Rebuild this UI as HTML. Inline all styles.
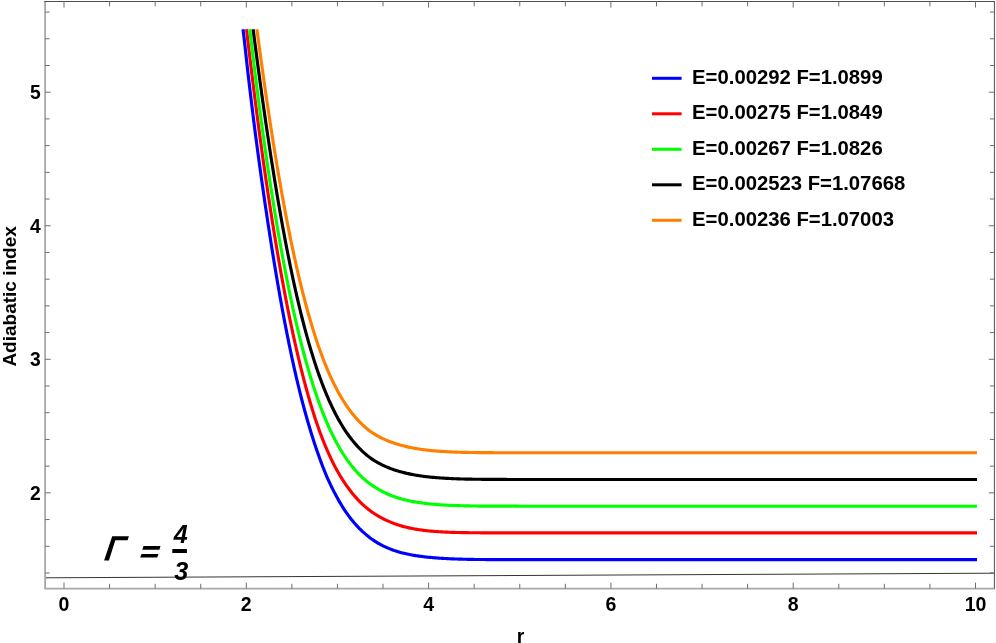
<!DOCTYPE html>
<html><head><meta charset="utf-8"><title>Adiabatic index</title>
<style>
html,body{margin:0;padding:0;background:#fff;}
body{width:996px;height:643px;overflow:hidden;}
svg{display:block;will-change:transform;}
text{font-family:"Liberation Sans",sans-serif;font-weight:bold;fill:#000;}
</style></head><body>
<svg width="996" height="643" viewBox="0 0 996 643">
<rect x="0" y="0" width="996" height="643" fill="#ffffff"/>
<line x1="45.1" y1="577.8" x2="994.4" y2="573.2" stroke="#000" stroke-width="0.8"/>
<path d="M243.02,29.30 L244.15,38.79 L245.23,48.21 L246.24,57.57 L247.26,66.85 L248.32,76.06 L249.40,85.20 L250.48,94.26 L251.56,103.24 L252.65,112.14 L253.75,120.95 L254.86,129.68 L255.98,138.33 L257.12,146.88 L258.26,155.35 L259.41,163.72 L260.55,172.01 L261.70,180.20 L262.85,188.29 L264.00,196.29 L265.15,204.19 L266.31,211.99 L267.46,219.69 L268.62,227.29 L269.77,234.79 L270.93,242.19 L272.09,249.49 L273.24,256.68 L274.40,263.77 L275.57,270.76 L276.73,277.64 L277.89,284.41 L279.05,291.09 L280.22,297.65 L281.38,304.11 L282.55,310.47 L283.72,316.72 L284.88,322.87 L286.05,328.91 L287.22,334.84 L288.39,340.67 L289.56,346.40 L290.73,352.02 L291.90,357.54 L293.07,362.95 L294.24,368.26 L295.42,373.47 L296.61,378.58 L297.80,383.59 L298.99,388.50 L300.18,393.30 L301.37,397.99 L302.57,402.58 L303.76,407.07 L304.95,411.47 L306.14,415.76 L307.33,419.96 L308.51,424.06 L309.70,428.06 L310.88,431.97 L312.07,435.79 L313.25,439.52 L314.44,443.15 L315.62,446.70 L316.80,450.16 L317.96,453.53 L319.12,456.82 L320.28,460.03 L321.44,463.15 L322.60,466.19 L323.76,469.15 L324.92,472.03 L326.08,474.82 L327.24,477.53 L328.40,480.15 L329.56,482.69 L330.72,485.15 L331.88,487.55 L333.04,489.87 L334.20,492.13 L335.36,494.33 L336.52,496.47 L337.68,498.57 L338.84,500.61 L340.00,502.61 L341.16,504.56 L342.32,506.45 L343.48,508.29 L344.64,510.07 L345.80,511.79 L346.96,513.47 L348.12,515.09 L349.27,516.66 L350.43,518.18 L351.59,519.66 L352.75,521.09 L353.91,522.48 L355.07,523.82 L356.23,525.12 L357.39,526.38 L358.55,527.60 L359.71,528.78 L360.87,529.92 L362.03,531.03 L363.19,532.10 L364.35,533.15 L365.51,534.16 L366.67,535.13 L367.83,536.08 L368.99,537.00 L370.15,537.88 L371.31,538.74 L372.47,539.56 L373.63,540.36 L374.79,541.13 L375.95,541.87 L377.11,542.59 L378.27,543.28 L379.43,543.94 L380.59,544.57 L381.75,545.19 L382.91,545.78 L384.07,546.35 L385.23,546.89 L386.39,547.42 L387.54,547.93 L388.70,548.42 L389.86,548.89 L391.02,549.35 L392.18,549.78 L393.34,550.20 L394.50,550.61 L395.66,550.99 L396.82,551.36 L397.98,551.72 L399.14,552.06 L400.30,552.39 L401.46,552.70 L402.62,553.00 L403.78,553.28 L404.94,553.56 L406.10,553.82 L407.26,554.08 L408.42,554.32 L409.58,554.55 L410.74,554.77 L411.90,554.99 L413.06,555.19 L414.22,555.39 L415.38,555.57 L416.54,555.75 L417.70,555.93 L418.86,556.09 L420.02,556.25 L421.18,556.41 L422.34,556.55 L423.50,556.70 L424.66,556.83 L425.81,556.96 L426.97,557.09 L428.13,557.21 L429.29,557.33 L430.45,557.44 L431.61,557.55 L432.77,557.66 L433.93,557.76 L435.09,557.85 L436.25,557.94 L437.41,558.03 L438.57,558.12 L439.73,558.20 L440.89,558.27 L442.05,558.35 L443.21,558.42 L444.37,558.49 L445.53,558.55 L446.69,558.61 L447.85,558.67 L449.01,558.72 L450.17,558.77 L451.33,558.82 L452.49,558.87 L453.65,558.91 L454.81,558.95 L455.97,558.99 L457.13,559.03 L458.29,559.07 L459.45,559.11 L460.61,559.14 L461.77,559.17 L462.92,559.20 L464.08,559.23 L465.24,559.26 L466.40,559.29 L467.56,559.32 L468.72,559.34 L469.88,559.36 L471.04,559.39 L472.20,559.41 L473.36,559.43 L474.52,559.45 L475.68,559.46 L476.84,559.48 L478.00,559.50 L479.16,559.51 L480.32,559.52 L481.48,559.53 L482.64,559.53 L483.80,559.54 L484.96,559.55 L486.12,559.55 L487.28,559.56 L488.44,559.56 L489.60,559.57 L490.76,559.57 L491.92,559.57 L493.08,559.58 L494.24,559.58 L495.40,559.58 L496.56,559.59 L497.72,559.59 L498.88,559.59 L500.04,559.59 L501.19,559.60 L502.35,559.60 L503.51,559.60 L504.67,559.60 L505.83,559.60 L506.99,559.61 L508.15,559.61 L509.31,559.61 L510.47,559.61 L511.63,559.61 L512.79,559.61 L513.95,559.61 L515.11,559.61 L516.27,559.61 L517.43,559.61 L518.59,559.62 L519.75,559.62 L543.82,559.62 L567.89,559.62 L591.96,559.62 L616.02,559.62 L640.09,559.62 L664.16,559.62 L688.23,559.62 L712.30,559.62 L736.37,559.62 L760.43,559.62 L784.50,559.63 L808.57,559.63 L832.64,559.63 L856.71,559.63 L880.78,559.63 L904.84,559.63 L928.91,559.63 L952.98,559.63 L977.05,559.63" fill="none" stroke="#0000ff" stroke-width="3.15" stroke-linejoin="round" stroke-linecap="butt"/>
<path d="M246.50,29.30 L247.67,39.31 L248.84,49.18 L250.01,58.93 L251.17,68.54 L252.34,78.02 L253.51,87.37 L254.67,96.58 L255.83,105.67 L257.00,114.63 L258.16,123.46 L259.32,132.17 L260.48,140.74 L261.64,149.19 L262.79,157.51 L263.95,165.71 L265.11,173.78 L266.27,181.73 L267.43,189.55 L268.58,197.25 L269.74,204.83 L270.89,212.29 L272.05,219.63 L273.20,226.85 L274.35,233.95 L275.50,240.93 L276.65,247.80 L277.79,254.55 L278.94,261.18 L280.08,267.70 L281.22,274.11 L282.36,280.40 L283.50,286.58 L284.64,292.65 L285.78,298.61 L286.92,304.46 L288.06,310.21 L289.19,315.84 L290.33,321.38 L291.47,326.80 L292.60,332.12 L293.74,337.34 L294.87,342.46 L296.01,347.48 L297.15,352.40 L298.28,357.21 L299.42,361.94 L300.55,366.56 L301.68,371.09 L302.81,375.53 L303.93,379.87 L305.06,384.12 L306.18,388.28 L307.31,392.35 L308.43,396.33 L309.55,400.22 L310.67,404.03 L311.79,407.76 L312.91,411.39 L314.03,414.95 L315.15,418.42 L316.28,421.80 L317.40,425.10 L318.52,428.32 L319.65,431.46 L320.79,434.52 L321.94,437.51 L323.08,440.43 L324.22,443.26 L325.37,446.03 L326.51,448.73 L327.66,451.36 L328.80,453.92 L329.94,456.41 L331.09,458.83 L332.23,461.19 L333.37,463.49 L334.52,465.73 L335.66,467.90 L336.80,470.02 L337.95,472.07 L339.09,474.06 L340.23,475.99 L341.38,477.86 L342.52,479.67 L343.66,481.43 L344.81,483.14 L345.95,484.81 L347.09,486.42 L348.24,488.00 L349.38,489.54 L350.52,491.04 L351.67,492.50 L352.81,493.91 L353.95,495.29 L355.10,496.62 L356.24,497.91 L357.38,499.17 L358.53,500.38 L359.67,501.56 L360.81,502.70 L361.96,503.80 L363.10,504.86 L364.24,505.89 L365.39,506.89 L366.53,507.86 L367.67,508.79 L368.82,509.69 L369.96,510.56 L371.11,511.40 L372.25,512.21 L373.39,513.00 L374.54,513.76 L375.68,514.49 L376.82,515.19 L377.97,515.88 L379.11,516.54 L380.25,517.17 L381.40,517.79 L382.54,518.39 L383.68,518.98 L384.83,519.55 L385.97,520.10 L387.11,520.64 L388.26,521.16 L389.40,521.66 L390.54,522.15 L391.69,522.62 L392.83,523.08 L393.97,523.52 L395.12,523.94 L396.26,524.35 L397.40,524.74 L398.55,525.11 L399.69,525.46 L400.83,525.80 L401.98,526.13 L403.12,526.44 L404.26,526.75 L405.41,527.04 L406.55,527.32 L407.69,527.58 L408.84,527.84 L409.98,528.09 L411.12,528.32 L412.27,528.55 L413.41,528.77 L414.56,528.97 L415.70,529.17 L416.84,529.36 L417.99,529.54 L419.13,529.71 L420.27,529.88 L421.42,530.03 L422.56,530.18 L423.70,530.33 L424.85,530.46 L425.99,530.60 L427.13,530.72 L428.28,530.84 L429.42,530.96 L430.56,531.06 L431.71,531.17 L432.85,531.27 L433.99,531.36 L435.14,531.45 L436.28,531.54 L437.42,531.62 L438.57,531.70 L439.71,531.77 L440.85,531.84 L442.00,531.91 L443.14,531.97 L444.28,532.03 L445.43,532.09 L446.57,532.14 L447.71,532.19 L448.86,532.24 L450.00,532.28 L451.14,532.32 L452.29,532.36 L453.43,532.39 L454.57,532.42 L455.72,532.45 L456.86,532.48 L458.01,532.51 L459.15,532.53 L460.29,532.55 L461.44,532.58 L462.58,532.60 L463.72,532.62 L464.87,532.64 L466.01,532.65 L467.15,532.67 L468.30,532.69 L469.44,532.70 L470.58,532.71 L471.73,532.73 L472.87,532.74 L474.01,532.75 L475.16,532.76 L476.30,532.77 L477.44,532.78 L478.59,532.79 L479.73,532.80 L480.87,532.81 L482.02,532.81 L483.16,532.82 L484.30,532.83 L485.45,532.83 L486.59,532.84 L487.73,532.84 L488.88,532.85 L490.02,532.85 L491.16,532.86 L492.31,532.86 L493.45,532.87 L494.59,532.87 L495.74,532.87 L496.88,532.88 L498.02,532.88 L499.17,532.88 L500.31,532.88 L501.46,532.89 L502.60,532.89 L503.74,532.89 L504.89,532.89 L506.03,532.89 L507.17,532.90 L508.32,532.90 L509.46,532.90 L510.60,532.90 L511.75,532.90 L512.89,532.90 L514.03,532.90 L515.18,532.90 L516.32,532.90 L517.46,532.91 L518.61,532.91 L519.75,532.91 L543.82,532.91 L567.89,532.91 L591.96,532.91 L616.02,532.91 L640.09,532.91 L664.16,532.91 L688.23,532.91 L712.30,532.91 L736.37,532.91 L760.43,532.92 L784.50,532.92 L808.57,532.92 L832.64,532.92 L856.71,532.92 L880.78,532.92 L904.84,532.92 L928.91,532.92 L952.98,532.92 L977.05,532.92" fill="none" stroke="#ff0000" stroke-width="3.15" stroke-linejoin="round" stroke-linecap="butt"/>
<path d="M249.77,29.30 L250.90,38.90 L252.03,48.38 L253.16,57.71 L254.29,66.92 L255.41,76.00 L256.54,84.94 L257.67,93.76 L258.80,102.44 L259.93,111.00 L261.06,119.43 L262.19,127.74 L263.32,135.92 L264.45,143.97 L265.58,151.90 L266.71,159.70 L267.84,167.39 L268.97,174.95 L270.10,182.39 L271.23,189.71 L272.36,196.91 L273.49,203.99 L274.62,210.95 L275.75,217.80 L276.88,224.53 L278.01,231.15 L279.14,237.66 L280.27,244.05 L281.40,250.33 L282.53,256.49 L283.66,262.55 L284.79,268.50 L285.92,274.34 L287.04,280.08 L288.17,285.71 L289.30,291.23 L290.43,296.65 L291.56,301.97 L292.69,307.19 L293.82,312.30 L294.95,317.32 L296.08,322.23 L297.21,327.05 L298.34,331.78 L299.47,336.41 L300.60,340.94 L301.73,345.38 L302.86,349.73 L303.99,353.99 L305.12,358.16 L306.25,362.24 L307.38,366.24 L308.51,370.14 L309.64,373.97 L310.77,377.71 L311.90,381.36 L313.03,384.94 L314.16,388.43 L315.29,391.85 L316.42,395.18 L317.54,398.44 L318.67,401.63 L319.80,404.73 L320.93,407.77 L322.06,410.73 L323.19,413.63 L324.32,416.45 L325.45,419.20 L326.58,421.89 L327.71,424.50 L328.84,427.06 L329.97,429.54 L331.10,431.95 L332.23,434.29 L333.36,436.57 L334.49,438.79 L335.62,440.95 L336.75,443.05 L337.88,445.09 L339.01,447.08 L340.14,449.02 L341.27,450.90 L342.40,452.73 L343.53,454.51 L344.66,456.24 L345.79,457.92 L346.92,459.55 L348.05,461.13 L349.17,462.67 L350.30,464.16 L351.43,465.60 L352.56,467.01 L353.69,468.37 L354.82,469.69 L355.95,470.97 L357.08,472.21 L358.21,473.40 L359.34,474.56 L360.47,475.68 L361.60,476.76 L362.73,477.81 L363.86,478.83 L364.99,479.81 L366.12,480.75 L367.25,481.67 L368.38,482.56 L369.51,483.42 L370.64,484.25 L371.77,485.05 L372.90,485.83 L374.03,486.58 L375.16,487.31 L376.29,488.02 L377.42,488.70 L378.55,489.37 L379.67,490.01 L380.80,490.64 L381.93,491.24 L383.06,491.83 L384.19,492.39 L385.32,492.94 L386.45,493.47 L387.58,493.98 L388.71,494.48 L389.84,494.96 L390.97,495.42 L392.10,495.86 L393.23,496.29 L394.36,496.70 L395.49,497.10 L396.62,497.48 L397.75,497.85 L398.88,498.20 L400.01,498.53 L401.14,498.86 L402.27,499.17 L403.40,499.47 L404.53,499.75 L405.66,500.03 L406.79,500.29 L407.92,500.55 L409.05,500.79 L410.18,501.03 L411.30,501.25 L412.43,501.47 L413.56,501.67 L414.69,501.87 L415.82,502.06 L416.95,502.25 L418.08,502.42 L419.21,502.59 L420.34,502.76 L421.47,502.91 L422.60,503.06 L423.73,503.21 L424.86,503.35 L425.99,503.48 L427.12,503.61 L428.25,503.73 L429.38,503.85 L430.51,503.97 L431.64,504.08 L432.77,504.18 L433.90,504.29 L435.03,504.38 L436.16,504.48 L437.29,504.57 L438.42,504.65 L439.55,504.74 L440.68,504.81 L441.81,504.89 L442.93,504.96 L444.06,505.03 L445.19,505.09 L446.32,505.15 L447.45,505.21 L448.58,505.27 L449.71,505.32 L450.84,505.37 L451.97,505.42 L453.10,505.46 L454.23,505.50 L455.36,505.55 L456.49,505.58 L457.62,505.62 L458.75,505.66 L459.88,505.69 L461.01,505.72 L462.14,505.75 L463.27,505.78 L464.40,505.81 L465.53,505.84 L466.66,505.86 L467.79,505.89 L468.92,505.91 L470.05,505.93 L471.18,505.95 L472.31,505.97 L473.43,505.99 L474.56,506.01 L475.69,506.03 L476.82,506.04 L477.95,506.06 L479.08,506.07 L480.21,506.08 L481.34,506.09 L482.47,506.10 L483.60,506.10 L484.73,506.11 L485.86,506.12 L486.99,506.12 L488.12,506.13 L489.25,506.13 L490.38,506.14 L491.51,506.14 L492.64,506.15 L493.77,506.15 L494.90,506.15 L496.03,506.16 L497.16,506.16 L498.29,506.16 L499.42,506.17 L500.55,506.17 L501.68,506.17 L502.81,506.17 L503.94,506.18 L505.06,506.18 L506.19,506.18 L507.32,506.18 L508.45,506.18 L509.58,506.19 L510.71,506.19 L511.84,506.19 L512.97,506.19 L514.10,506.19 L515.23,506.19 L516.36,506.19 L517.49,506.19 L518.62,506.19 L519.75,506.20 L543.82,506.20 L567.89,506.20 L591.96,506.20 L616.02,506.20 L640.09,506.20 L664.16,506.20 L688.23,506.20 L712.30,506.20 L736.37,506.20 L760.43,506.20 L784.50,506.21 L808.57,506.21 L832.64,506.21 L856.71,506.21 L880.78,506.21 L904.84,506.21 L928.91,506.21 L952.98,506.21 L977.05,506.21" fill="none" stroke="#00ff00" stroke-width="3.15" stroke-linejoin="round" stroke-linecap="butt"/>
<path d="M253.14,29.30 L254.25,37.98 L255.37,46.57 L256.49,55.07 L257.60,63.48 L258.72,71.80 L259.83,80.02 L260.95,88.15 L262.06,96.18 L263.18,104.12 L264.29,111.95 L265.41,119.69 L266.53,127.33 L267.64,134.88 L268.76,142.32 L269.87,149.66 L270.99,156.89 L272.10,164.03 L273.22,171.07 L274.33,178.00 L275.45,184.83 L276.56,191.56 L277.68,198.18 L278.80,204.71 L279.91,211.13 L281.03,217.45 L282.14,223.66 L283.26,229.77 L284.37,235.79 L285.49,241.70 L286.60,247.51 L287.72,253.21 L288.84,258.82 L289.95,264.33 L291.07,269.74 L292.18,275.05 L293.30,280.26 L294.41,285.37 L295.53,290.39 L296.64,295.31 L297.76,300.14 L298.88,304.87 L299.99,309.50 L301.11,314.05 L302.22,318.50 L303.34,322.86 L304.45,327.13 L305.57,331.31 L306.68,335.40 L307.80,339.40 L308.92,343.32 L310.03,347.15 L311.15,350.90 L312.26,354.56 L313.38,358.14 L314.49,361.64 L315.61,365.07 L316.72,368.41 L317.84,371.67 L318.95,374.86 L320.07,377.97 L321.19,381.00 L322.30,383.96 L323.42,386.85 L324.53,389.67 L325.65,392.42 L326.76,395.10 L327.88,397.72 L328.99,400.26 L330.11,402.74 L331.23,405.16 L332.34,407.51 L333.46,409.80 L334.57,412.04 L335.69,414.21 L336.80,416.32 L337.92,418.38 L339.03,420.37 L340.15,422.32 L341.27,424.21 L342.38,426.05 L343.50,427.83 L344.61,429.57 L345.73,431.26 L346.84,432.89 L347.96,434.48 L349.07,436.03 L350.19,437.52 L351.31,438.98 L352.42,440.39 L353.54,441.76 L354.65,443.09 L355.77,444.37 L356.88,445.62 L358.00,446.83 L359.11,448.00 L360.23,449.14 L361.34,450.24 L362.46,451.30 L363.58,452.33 L364.69,453.33 L365.81,454.30 L366.92,455.23 L368.04,456.13 L369.15,457.01 L370.27,457.85 L371.38,458.63 L372.50,459.38 L373.62,460.11 L374.73,460.81 L375.85,461.49 L376.96,462.14 L378.08,462.78 L379.19,463.39 L380.31,463.98 L381.42,464.55 L382.54,465.10 L383.66,465.63 L384.77,466.14 L385.89,466.63 L387.00,467.11 L388.12,467.57 L389.23,468.02 L390.35,468.45 L391.46,468.86 L392.58,469.26 L393.70,469.65 L394.81,470.03 L395.93,470.39 L397.04,470.74 L398.16,471.08 L399.27,471.40 L400.39,471.72 L401.50,472.03 L402.62,472.32 L403.74,472.61 L404.85,472.88 L405.97,473.15 L407.08,473.41 L408.20,473.66 L409.31,473.90 L410.43,474.13 L411.54,474.36 L412.66,474.57 L413.77,474.78 L414.89,474.98 L416.01,475.18 L417.12,475.36 L418.24,475.54 L419.35,475.72 L420.47,475.89 L421.58,476.05 L422.70,476.20 L423.81,476.35 L424.93,476.49 L426.05,476.63 L427.16,476.76 L428.28,476.88 L429.39,477.00 L430.51,477.12 L431.62,477.23 L432.74,477.33 L433.85,477.43 L434.97,477.53 L436.09,477.62 L437.20,477.71 L438.32,477.80 L439.43,477.88 L440.55,477.96 L441.66,478.04 L442.78,478.11 L443.89,478.18 L445.01,478.25 L446.13,478.31 L447.24,478.38 L448.36,478.44 L449.47,478.50 L450.59,478.55 L451.70,478.61 L452.82,478.66 L453.93,478.71 L455.05,478.76 L456.16,478.80 L457.28,478.85 L458.40,478.89 L459.51,478.93 L460.63,478.96 L461.74,478.99 L462.86,479.02 L463.97,479.04 L465.09,479.07 L466.20,479.09 L467.32,479.11 L468.44,479.13 L469.55,479.15 L470.67,479.17 L471.78,479.19 L472.90,479.20 L474.01,479.22 L475.13,479.23 L476.24,479.25 L477.36,479.26 L478.48,479.27 L479.59,479.29 L480.71,479.30 L481.82,479.31 L482.94,479.32 L484.05,479.33 L485.17,479.34 L486.28,479.35 L487.40,479.35 L488.52,479.36 L489.63,479.37 L490.75,479.38 L491.86,479.38 L492.98,479.39 L494.09,479.40 L495.21,479.40 L496.32,479.41 L497.44,479.41 L498.55,479.42 L499.67,479.42 L500.79,479.43 L501.90,479.43 L503.02,479.43 L504.13,479.44 L505.25,479.44 L506.36,479.44 L507.48,479.45 L508.59,479.45 L509.71,479.45 L510.83,479.45 L511.94,479.46 L513.06,479.46 L514.17,479.46 L515.29,479.46 L516.40,479.47 L517.52,479.47 L518.63,479.47 L519.75,479.47 L543.82,479.49 L567.89,479.49 L591.96,479.49 L616.02,479.49 L640.09,479.49 L664.16,479.49 L688.23,479.49 L712.30,479.49 L736.37,479.49 L760.43,479.49 L784.50,479.49 L808.57,479.49 L832.64,479.49 L856.71,479.49 L880.78,479.50 L904.84,479.50 L928.91,479.50 L952.98,479.50 L977.05,479.50" fill="none" stroke="#000000" stroke-width="3.15" stroke-linejoin="round" stroke-linecap="butt"/>
<path d="M256.88,29.30 L257.98,37.52 L259.08,45.66 L260.18,53.72 L261.28,61.68 L262.38,69.56 L263.48,77.34 L264.58,85.03 L265.68,92.64 L266.78,100.15 L267.88,107.56 L268.98,114.88 L270.08,122.11 L271.18,129.24 L272.28,136.27 L273.38,143.21 L274.48,150.05 L275.58,156.80 L276.67,163.44 L277.77,169.99 L278.87,176.44 L279.97,182.80 L281.07,189.05 L282.17,195.21 L283.27,201.27 L284.37,207.23 L285.47,213.10 L286.57,218.86 L287.67,224.53 L288.77,230.10 L289.87,235.58 L290.97,240.96 L292.07,246.24 L293.17,251.43 L294.27,256.53 L295.37,261.53 L296.47,266.44 L297.57,271.25 L298.67,275.97 L299.77,280.60 L300.87,285.15 L301.97,289.60 L303.07,293.96 L304.17,298.23 L305.27,302.41 L306.37,306.51 L307.47,310.53 L308.57,314.45 L309.67,318.30 L310.77,322.06 L311.87,325.74 L312.97,329.34 L314.07,332.85 L315.17,336.29 L316.27,339.65 L317.37,342.94 L318.47,346.15 L319.57,349.28 L320.67,352.34 L321.77,355.32 L322.87,358.24 L323.97,361.08 L325.07,363.86 L326.17,366.57 L327.27,369.21 L328.37,371.78 L329.47,374.29 L330.57,376.74 L331.67,379.12 L332.77,381.44 L333.87,383.70 L334.97,385.90 L336.07,388.04 L337.17,390.13 L338.27,392.16 L339.37,394.13 L340.47,396.05 L341.57,397.92 L342.67,399.73 L343.77,401.50 L344.87,403.21 L345.97,404.88 L347.07,406.50 L348.17,408.07 L349.27,409.60 L350.37,411.08 L351.47,412.52 L352.57,413.92 L353.67,415.27 L354.77,416.59 L355.87,417.86 L356.97,419.10 L358.07,420.29 L359.17,421.45 L360.27,422.58 L361.37,423.67 L362.47,424.72 L363.57,425.75 L364.67,426.74 L365.77,427.70 L366.87,428.62 L367.97,429.52 L369.07,430.39 L370.17,431.22 L371.27,431.99 L372.37,432.73 L373.46,433.44 L374.56,434.14 L375.66,434.80 L376.76,435.45 L377.86,436.07 L378.96,436.68 L380.06,437.26 L381.16,437.82 L382.26,438.36 L383.36,438.88 L384.46,439.39 L385.56,439.88 L386.66,440.35 L387.76,440.81 L388.86,441.25 L389.96,441.67 L391.06,442.08 L392.16,442.48 L393.26,442.86 L394.36,443.23 L395.46,443.59 L396.56,443.94 L397.66,444.27 L398.76,444.60 L399.86,444.91 L400.96,445.22 L402.06,445.51 L403.16,445.80 L404.26,446.08 L405.36,446.35 L406.46,446.60 L407.56,446.86 L408.66,447.10 L409.76,447.34 L410.86,447.56 L411.96,447.78 L413.06,448.00 L414.16,448.20 L415.26,448.40 L416.36,448.59 L417.46,448.78 L418.56,448.95 L419.66,449.13 L420.76,449.29 L421.86,449.45 L422.96,449.60 L424.06,449.75 L425.16,449.89 L426.26,450.02 L427.36,450.15 L428.46,450.27 L429.56,450.39 L430.66,450.50 L431.76,450.61 L432.86,450.71 L433.96,450.81 L435.06,450.90 L436.16,450.99 L437.26,451.08 L438.36,451.16 L439.46,451.24 L440.56,451.32 L441.66,451.40 L442.76,451.47 L443.86,451.53 L444.96,451.60 L446.06,451.66 L447.16,451.72 L448.26,451.78 L449.36,451.84 L450.46,451.89 L451.56,451.94 L452.66,451.99 L453.76,452.04 L454.86,452.08 L455.96,452.13 L457.06,452.17 L458.16,452.21 L459.26,452.25 L460.36,452.28 L461.46,452.31 L462.56,452.33 L463.66,452.35 L464.76,452.38 L465.86,452.40 L466.96,452.42 L468.06,452.44 L469.16,452.46 L470.26,452.47 L471.35,452.49 L472.45,452.51 L473.55,452.52 L474.65,452.54 L475.75,452.55 L476.85,452.56 L477.95,452.57 L479.05,452.59 L480.15,452.60 L481.25,452.61 L482.35,452.62 L483.45,452.63 L484.55,452.64 L485.65,452.64 L486.75,452.65 L487.85,452.66 L488.95,452.67 L490.05,452.67 L491.15,452.68 L492.25,452.69 L493.35,452.69 L494.45,452.70 L495.55,452.70 L496.65,452.71 L497.75,452.71 L498.85,452.71 L499.95,452.72 L501.05,452.72 L502.15,452.73 L503.25,452.73 L504.35,452.73 L505.45,452.74 L506.55,452.74 L507.65,452.74 L508.75,452.74 L509.85,452.75 L510.95,452.75 L512.05,452.75 L513.15,452.75 L514.25,452.76 L515.35,452.76 L516.45,452.76 L517.55,452.76 L518.65,452.76 L519.75,452.76 L543.82,452.78 L567.89,452.78 L591.96,452.78 L616.02,452.78 L640.09,452.78 L664.16,452.78 L688.23,452.78 L712.30,452.78 L736.37,452.78 L760.43,452.78 L784.50,452.78 L808.57,452.78 L832.64,452.78 L856.71,452.79 L880.78,452.79 L904.84,452.79 L928.91,452.79 L952.98,452.79 L977.05,452.79" fill="none" stroke="#ff8000" stroke-width="3.15" stroke-linejoin="round" stroke-linecap="butt"/>
<g stroke="#a8a8a8" stroke-width="1.8" fill="none">
<line x1="45.1" y1="1.5" x2="45.1" y2="588.7"/><line x1="44.2" y1="588.7" x2="994.9" y2="588.7"/>
</g>
<g stroke="#4d4d4d" stroke-width="1" fill="none">
<line x1="44.2" y1="1.5" x2="994.9" y2="1.5"/><line x1="994.4" y1="1.5" x2="994.4" y2="588.7"/>
</g>
<path d="M64.00,588.7v-6.1M64.00,1.5v6.1M109.58,588.7v-4.9M109.58,1.5v4.9M155.15,588.7v-4.9M155.15,1.5v4.9M200.73,588.7v-4.9M200.73,1.5v4.9M246.30,588.7v-6.1M246.30,1.5v6.1M291.88,588.7v-4.9M291.88,1.5v4.9M337.45,588.7v-4.9M337.45,1.5v4.9M383.03,588.7v-4.9M383.03,1.5v4.9M428.60,588.7v-6.1M428.60,1.5v6.1M474.18,588.7v-4.9M474.18,1.5v4.9M519.75,588.7v-4.9M519.75,1.5v4.9M565.33,588.7v-4.9M565.33,1.5v4.9M610.90,588.7v-6.1M610.90,1.5v6.1M656.48,588.7v-4.9M656.48,1.5v4.9M702.05,588.7v-4.9M702.05,1.5v4.9M747.62,588.7v-4.9M747.62,1.5v4.9M793.20,588.7v-6.1M793.20,1.5v6.1M838.78,588.7v-4.9M838.78,1.5v4.9M884.35,588.7v-4.9M884.35,1.5v4.9M929.93,588.7v-4.9M929.93,1.5v4.9M975.50,588.7v-6.1M975.50,1.5v6.1M45.1,572.98h4.5M994.4,572.98h-4.5M45.1,546.27h4.5M994.4,546.27h-4.5M45.1,519.56h4.5M994.4,519.56h-4.5M45.1,492.85h5.6M994.4,492.85h-5.6M45.1,466.14h4.5M994.4,466.14h-4.5M45.1,439.43h4.5M994.4,439.43h-4.5M45.1,412.72h4.5M994.4,412.72h-4.5M45.1,386.01h4.5M994.4,386.01h-4.5M45.1,359.30h5.6M994.4,359.30h-5.6M45.1,332.59h4.5M994.4,332.59h-4.5M45.1,305.88h4.5M994.4,305.88h-4.5M45.1,279.17h4.5M994.4,279.17h-4.5M45.1,252.46h4.5M994.4,252.46h-4.5M45.1,225.75h5.6M994.4,225.75h-5.6M45.1,199.04h4.5M994.4,199.04h-4.5M45.1,172.33h4.5M994.4,172.33h-4.5M45.1,145.62h4.5M994.4,145.62h-4.5M45.1,118.91h4.5M994.4,118.91h-4.5M45.1,92.20h5.6M994.4,92.20h-5.6M45.1,65.49h4.5M994.4,65.49h-4.5M45.1,38.78h4.5M994.4,38.78h-4.5M45.1,12.07h4.5M994.4,12.07h-4.5" stroke="#6e6e6e" stroke-width="1" fill="none"/>
<text x="64.0" y="610.8" font-size="19.5" text-anchor="middle">0</text>
<text x="246.3" y="610.8" font-size="19.5" text-anchor="middle">2</text>
<text x="428.6" y="610.8" font-size="19.5" text-anchor="middle">4</text>
<text x="610.9" y="610.8" font-size="19.5" text-anchor="middle">6</text>
<text x="793.2" y="610.8" font-size="19.5" text-anchor="middle">8</text>
<text x="975.5" y="610.8" font-size="19.5" text-anchor="middle">10</text>
<text x="40.8" y="499.8" font-size="19.3" text-anchor="end">2</text>
<text x="40.8" y="366.2" font-size="19.3" text-anchor="end">3</text>
<text x="40.8" y="232.7" font-size="19.3" text-anchor="end">4</text>
<text x="40.8" y="99.1" font-size="19.3" text-anchor="end">5</text>
<text x="520.5" y="642.5" font-size="19.5" text-anchor="middle">r</text>
<text transform="translate(16,296.4) rotate(-90)" font-size="19" text-anchor="middle">Adiabatic index</text>
<line x1="652" y1="78.3" x2="681.6" y2="78.3" stroke="#0000ff" stroke-width="3"/>
<text x="692.1" y="83.5" font-size="20.3">E=0.00292 F=1.0899</text>
<line x1="652" y1="113.8" x2="681.6" y2="113.8" stroke="#ff0000" stroke-width="3"/>
<text x="692.1" y="119.0" font-size="20.3">E=0.00275 F=1.0849</text>
<line x1="652" y1="149.3" x2="681.6" y2="149.3" stroke="#00ff00" stroke-width="3"/>
<text x="692.1" y="154.5" font-size="20.3">E=0.00267 F=1.0826</text>
<line x1="652" y1="184.8" x2="681.6" y2="184.8" stroke="#000000" stroke-width="3"/>
<text x="692.1" y="190.0" font-size="20.3">E=0.002523 F=1.07668</text>
<line x1="652" y1="220.3" x2="681.6" y2="220.3" stroke="#ff8000" stroke-width="3"/>
<text x="692.1" y="225.5" font-size="20.3">E=0.00236 F=1.07003</text>
<polygon points="112.2,536.3 128.9,536.3 127.6,540.3 115.3,540.3 108.9,560.5 104.1,560.5" fill="#000"/>
<polygon points="143.5,546.1 160.5,546.1 159.4,549.8 142.3,549.8" fill="#000"/>
<polygon points="141.5,553.9 158.5,553.9 157.2,557.6 140.2,557.6" fill="#000"/>
<text x="173.8" y="542.8" font-size="25.2" font-style="italic">4</text>
<rect x="172.3" y="549" width="14.6" height="4" fill="#000"/>
<text x="174.2" y="579.8" font-size="25.2" font-style="italic">3</text>
</svg>
</body></html>
